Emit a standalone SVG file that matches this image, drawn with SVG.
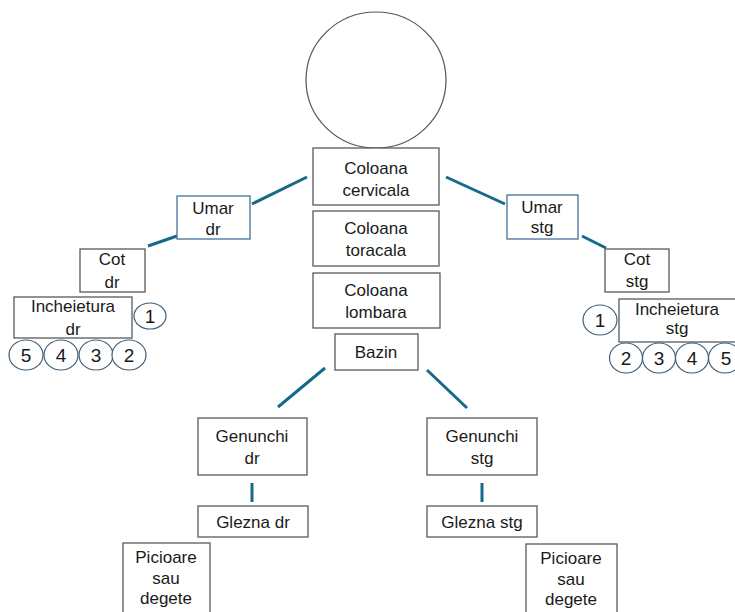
<svg xmlns="http://www.w3.org/2000/svg" width="735" height="612" viewBox="0 0 735 612">
<style>
.box{fill:#fff;stroke:#595959;stroke-width:1.3}
.bbox{fill:#fff;stroke:#41719C;stroke-width:1.3}
.c{fill:#fff;stroke:#3f5f78;stroke-width:1.2}
.t{font-family:"Liberation Sans",Arial,sans-serif;font-size:17px;fill:#1a1a1a;text-anchor:middle}
.n{font-family:"Liberation Sans",Arial,sans-serif;font-size:19px;fill:#1a1a1a;text-anchor:middle}
.ln{stroke:#16698a;stroke-width:3;fill:none}
</style>
<rect width="735" height="612" fill="#fff"/>
<g id="connectors">
<line class="ln" x1="252" y1="204" x2="307" y2="177"/>
<line class="ln" x1="148" y1="246" x2="177" y2="236"/>
<line class="ln" x1="446" y1="177" x2="505" y2="204"/>
<line class="ln" x1="582" y1="236" x2="606" y2="248"/>
<line class="ln" x1="325" y1="368" x2="278" y2="407"/>
<line class="ln" x1="427" y1="370" x2="467" y2="408"/>
<line class="ln" x1="252" y1="483" x2="252" y2="502"/>
<line class="ln" x1="482" y1="483" x2="482" y2="502"/>
</g>
<g id="head"><ellipse class="c" cx="376" cy="80" rx="70" ry="68" style="stroke:#555"/></g>
<g id="cervicala"><rect class="box" x="313" y="148" width="126" height="57"/><text class="t" x="376" y="174">Coloana</text><text class="t" x="376" y="196">cervicala</text></g>
<g id="toracala"><rect class="box" x="313" y="211" width="126" height="55"/><text class="t" x="376" y="234">Coloana</text><text class="t" x="376" y="256">toracala</text></g>
<g id="lombara"><rect class="box" x="313" y="273" width="127" height="55"/><text class="t" x="376" y="296">Coloana</text><text class="t" x="376" y="318">lombara</text></g>
<g id="bazin"><rect class="box" x="335" y="334" width="83" height="36"/><text class="t" x="376" y="358">Bazin</text></g>
<g id="umar-dr"><rect class="bbox" x="177" y="196" width="73" height="43"/><text class="t" x="213" y="214">Umar</text><text class="t" x="213" y="235">dr</text></g>
<g id="umar-stg"><rect class="bbox" x="507" y="195" width="71" height="44"/><text class="t" x="542" y="213">Umar</text><text class="t" x="542" y="233">stg</text></g>
<g id="cot-dr"><rect class="box" x="80" y="249" width="65" height="43"/><text class="t" x="112" y="265">Cot</text><text class="t" x="112" y="288">dr</text></g>
<g id="cot-stg"><rect class="box" x="605" y="249" width="64" height="43"/><text class="t" x="637" y="265">Cot</text><text class="t" x="637" y="287">stg</text></g>
<g id="incheietura-dr"><rect class="box" x="14" y="297" width="118" height="41"/><text class="t" x="73" y="312">Incheietura</text><text class="t" x="73" y="335">dr</text></g>
<g id="incheietura-stg"><rect class="box" x="619" y="299" width="118" height="43"/><text class="t" x="677" y="315">Incheietura</text><text class="t" x="677" y="334">stg</text></g>
<g id="dr-1"><ellipse class="c" cx="150" cy="316" rx="16" ry="13"/><text class="n" x="150" y="323">1</text></g>
<g id="dr-5"><ellipse class="c" cx="26" cy="355" rx="17" ry="15"/><text class="n" x="26" y="362">5</text></g>
<g id="dr-4"><ellipse class="c" cx="61" cy="355" rx="17" ry="15"/><text class="n" x="61" y="362">4</text></g>
<g id="dr-3"><ellipse class="c" cx="96" cy="355" rx="17" ry="15"/><text class="n" x="96" y="362">3</text></g>
<g id="dr-2"><ellipse class="c" cx="129" cy="355" rx="17" ry="15"/><text class="n" x="129" y="362">2</text></g>
<g id="stg-1"><ellipse class="c" cx="600" cy="320" rx="17" ry="15"/><text class="n" x="600" y="327">1</text></g>
<g id="stg-2"><ellipse class="c" cx="626" cy="358" rx="16.5" ry="15"/><text class="n" x="626" y="365">2</text></g>
<g id="stg-3"><ellipse class="c" cx="659" cy="358" rx="16.5" ry="15"/><text class="n" x="659" y="365">3</text></g>
<g id="stg-4"><ellipse class="c" cx="692" cy="358" rx="16.5" ry="15"/><text class="n" x="692" y="365">4</text></g>
<g id="stg-5"><ellipse class="c" cx="725" cy="358" rx="16.5" ry="15"/><text class="n" x="726" y="365">5</text></g>
<g id="genunchi-dr"><rect class="box" x="198" y="418" width="109" height="57"/><text class="t" x="252" y="442">Genunchi</text><text class="t" x="252" y="464">dr</text></g>
<g id="genunchi-stg"><rect class="box" x="427" y="418" width="110" height="57"/><text class="t" x="482" y="442">Genunchi</text><text class="t" x="482" y="464">stg</text></g>
<g id="glezna-dr"><rect class="box" x="198" y="506" width="110" height="31"/><text class="t" x="253" y="528">Glezna dr</text></g>
<g id="glezna-stg"><rect class="box" x="427" y="506" width="110" height="31"/><text class="t" x="482" y="528">Glezna stg</text></g>
<g id="picioare-dr"><rect class="box" x="123" y="543" width="87" height="80"/><text class="t" x="166" y="563">Picioare</text><text class="t" x="166" y="584">sau</text><text class="t" x="166" y="604">degete</text></g>
<g id="picioare-stg"><rect class="box" x="526" y="544" width="91" height="80"/><text class="t" x="571" y="564">Picioare</text><text class="t" x="571" y="585">sau</text><text class="t" x="571" y="605">degete</text></g>
</svg>
